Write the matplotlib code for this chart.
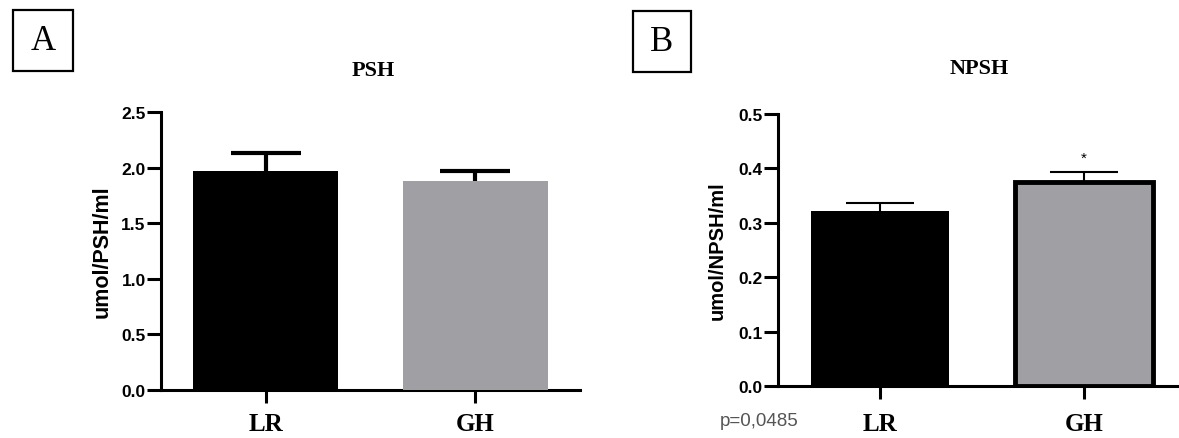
import matplotlib
matplotlib.use("Agg")
import matplotlib.pyplot as plt
from matplotlib.patches import Rectangle

# data
groups = ["LR", "GH"]
psh_mean = [1.97, 1.88]
psh_sem = [0.16, 0.09]
npsh_mean = [0.322, 0.375]
npsh_sem = [0.015, 0.018]
psh_ticks = [0.0, 0.5, 1.0, 1.5, 2.0, 2.5]
npsh_ticks = [0.0, 0.1, 0.2, 0.3, 0.4, 0.5]
p_text = "p=0,0485"

bar_colors = ["#000000", "#a09fa4"]
SANS = "Liberation Sans"
SERIF = "Liberation Serif"

W, H = 1179, 439
fig = plt.figure(figsize=(W / 100, H / 100), dpi=100)


def px_box(x0, y0, x1, y1):
    """pixel box (top-left origin) -> figure fraction rect"""
    return [x0 / W, 1 - y1 / H, (x1 - x0) / W, (y1 - y0) / H]


def upper_errors(ax, means, sems, lw, cap_pt):
    """one-sided (upper) error bars: stem plus a cap at the top only"""
    xs = range(len(means))
    tops = [m + s for m, s in zip(means, sems)]
    ax.vlines(xs, means, tops, color="black", linewidth=lw, zorder=2)
    ax.plot(xs, tops, ls="none", marker="_", markersize=cap_pt,
            markeredgewidth=lw, color="black", zorder=2)


def style_axis(ax, ticks, ylabel, ytick_size, label_size, label_x, xpad):
    for side in ("top", "right"):
        ax.spines[side].set_visible(False)
    for side in ("left", "bottom"):
        ax.spines[side].set_linewidth(2.2)
    ax.set_ylim(ticks[0], ticks[-1])
    ax.set_yticks(ticks)
    ax.set_yticklabels([f"{t:.1f}" for t in ticks], fontfamily=SANS,
                       fontweight="bold", fontsize=ytick_size)
    ax.tick_params(axis="y", length=10, width=2.2, pad=1)
    ax.tick_params(axis="x", length=9, width=2.2, pad=xpad)
    ax.set_xticks(range(len(groups)))
    ax.set_xticklabels(groups, fontfamily=SERIF, fontweight="bold", fontsize=18)
    ax.set_ylabel(ylabel, fontfamily=SANS, fontweight="bold",
                  fontsize=label_size, va="center")
    ax.yaxis.set_label_coords(label_x, 0.5)


# ---- panel A ----
axA = fig.add_axes(px_box(161, 113, 580, 391))
axA.bar(range(2), psh_mean, width=0.69, color=bar_colors, zorder=3)
upper_errors(axA, psh_mean, psh_sem, 3, 50)
axA.set_xlim(-0.5, 1.5)
style_axis(axA, psh_ticks, "umol/PSH/ml", 12.5, 15.5, -0.14, 7)

# ---- panel B ----
axB = fig.add_axes(px_box(778, 115, 1179, 387))
axB.bar(range(2), npsh_mean, width=0.68, color=bar_colors,
        edgecolor=["black", "black"], linewidth=[0, 3.5], zorder=3)
upper_errors(axB, npsh_mean, npsh_sem, 1.5, 49)
axB.text(1, npsh_mean[1] + npsh_sem[1] + 0.026, "*", ha="center", va="center",
         fontsize=11, fontfamily=SANS)
axB.set_xlim(-0.5, 1.466)
style_axis(axB, npsh_ticks, "umol/NPSH/ml", 12.5, 14.5, -0.152, 10)
fig.text(759 / W, 1 - 422 / H, p_text, ha="center", va="center",
         fontsize=13.5, fontfamily=SANS, color="#555555")

# ---- titles and panel letters ----
fig.text(373 / W, 1 - 71 / H, "PSH", ha="center", va="center",
         fontfamily=SERIF, fontweight="bold", fontsize=16)
fig.text(979 / W, 1 - 69 / H, "NPSH", ha="center", va="center",
         fontfamily=SERIF, fontweight="bold", fontsize=16)

for letter, (x0, y0, x1, y1) in [("A", (13, 11, 73, 72)), ("B", (633, 12, 691, 73))]:
    fx, fy, fw, fh = px_box(x0, y0, x1, y1)
    fig.add_artist(Rectangle((fx, fy), fw, fh, transform=fig.transFigure,
                             fill=False, edgecolor="black", linewidth=1.6))
    fig.text(fx + fw / 2, fy + fh / 2, letter, ha="center", va="center",
             fontfamily=SERIF, fontsize=25)

fig.savefig("out.png", dpi=100)
